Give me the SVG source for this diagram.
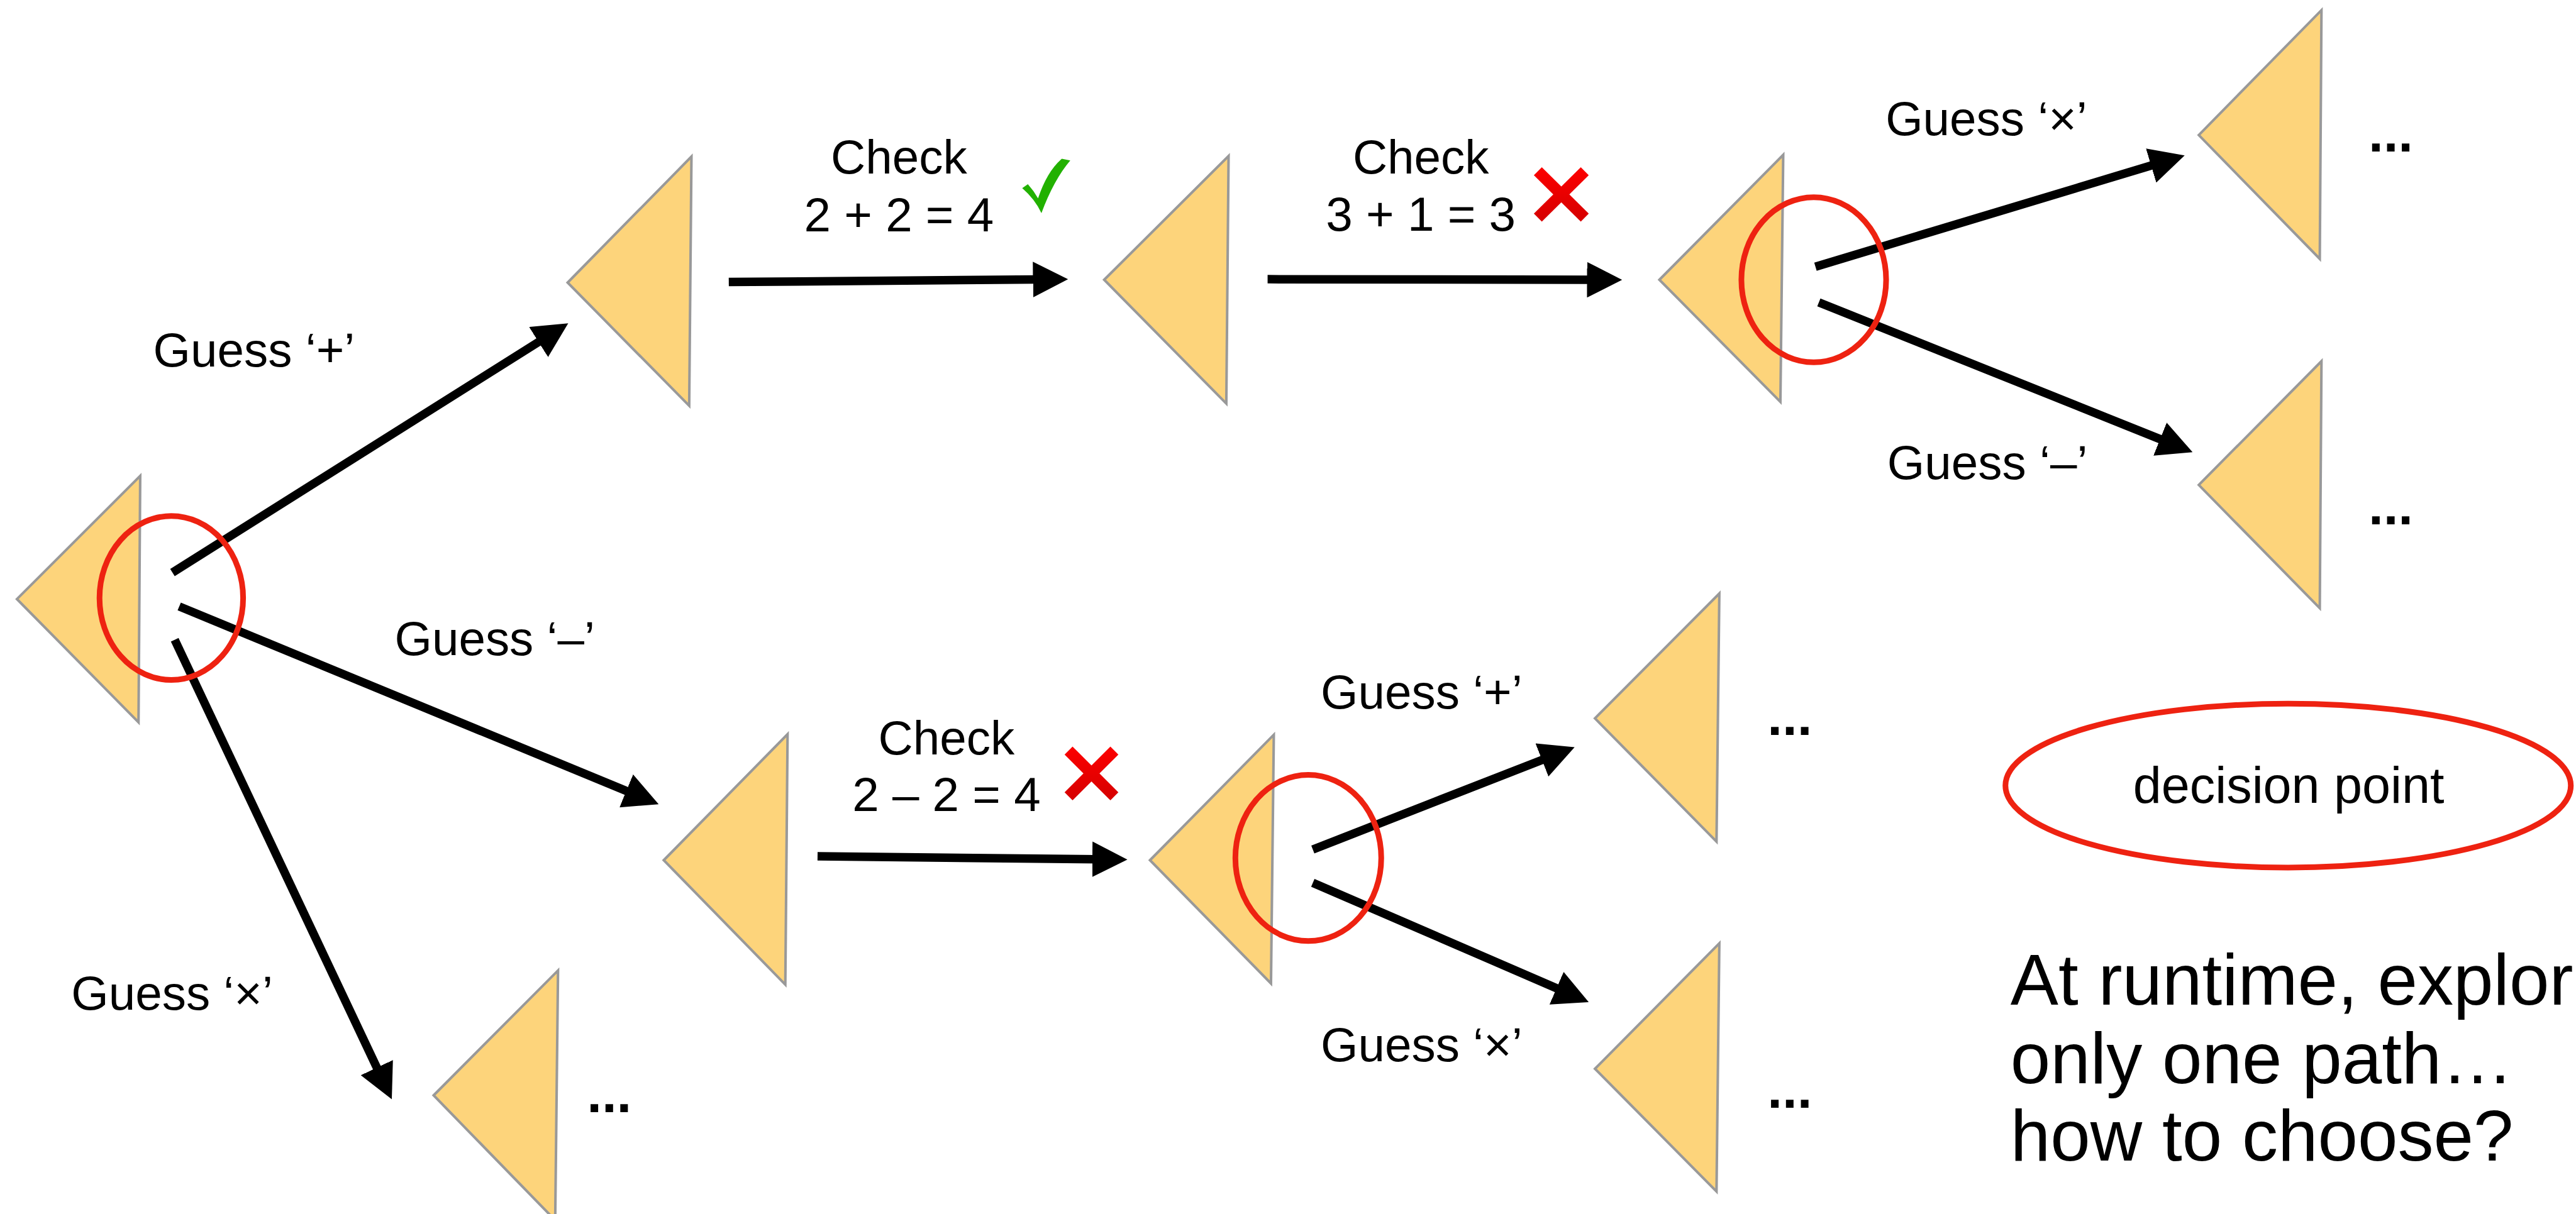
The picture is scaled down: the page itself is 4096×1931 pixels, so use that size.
<svg xmlns="http://www.w3.org/2000/svg" width="4096" height="1931" viewBox="0 0 4096 1931">
  <defs>
    <style>
      .tri { fill: #FDD47B; stroke: #999999; stroke-width: 4.5; stroke-linejoin: miter; }
      .dp { fill: none; stroke: #EE2211; stroke-width: 10; }
      .edge { stroke: #000000; stroke-width: 15; fill: none; marker-end: url(#ah); }
      .lbl { font-family: "Liberation Sans", Arial, Helvetica, sans-serif; font-size: 85px; fill: #000000; }
      .mid { text-anchor: middle; }
      .more { font-family: "Liberation Sans", Arial, Helvetica, sans-serif; font-size: 95px; font-weight: bold; fill: #000000; }
      .big { font-family: "Liberation Sans", Arial, Helvetica, sans-serif; font-size: 127px; fill: #000000; }
      .fail { stroke: url(#redgrad); stroke-width: 20; stroke-linecap: butt; fill: none; }
    </style>
    <marker id="ah" markerUnits="userSpaceOnUse" viewBox="0 0 62 63" markerWidth="62" markerHeight="63" refX="8" refY="31.5" orient="auto">
      <path d="M0,0 L62,31.5 L0,63 Z" fill="#000000"/>
    </marker>
    <linearGradient id="redgrad" x1="0" y1="0" x2="0" y2="1">
      <stop offset="0" stop-color="#FA0000"/>
      <stop offset="1" stop-color="#D80000"/>
    </linearGradient>
  </defs>

  <rect x="0" y="0" width="4096" height="1931" fill="#ffffff"/>

  <g transform="scale(0.899)">
    <!-- connectors -->
    <g id="connectors">
      <line class="edge" x1="305" y1="1013" x2="959.3" y2="600.8"/>
      <line class="edge" x1="317" y1="1073" x2="1115.1" y2="1402.4"/>
      <line class="edge" x1="309" y1="1132" x2="669.9" y2="1896.2"/>
      <line class="edge" x1="1289" y1="499" x2="1835" y2="494.5"/>
      <line class="edge" x1="2242" y1="494" x2="2815" y2="495"/>
      <line class="edge" x1="3211" y1="472" x2="3812.3" y2="290.6"/>
      <line class="edge" x1="3217" y1="535" x2="3827.9" y2="779.9"/>
      <line class="edge" x1="1446" y1="1515" x2="1940" y2="1520.4"/>
      <line class="edge" x1="2322" y1="1503" x2="2734.7" y2="1341.7"/>
      <line class="edge" x1="2322" y1="1562" x2="2760.4" y2="1751.6"/>
    </g>

    <!-- edge labels -->
    <g id="edge-labels">
      <text class="lbl" x="271" y="648">Guess ‘+’</text>
      <text class="lbl" x="698" y="1159">Guess ‘–’</text>
      <text class="lbl" x="126" y="1787">Guess ‘×’</text>
      <text class="lbl mid" x="1590" y="307">Check</text>
      <text class="lbl mid" x="1590" y="409">2 + 2 = 4</text>
      <text class="lbl mid" x="2513" y="307">Check</text>
      <text class="lbl mid" x="2513" y="408">3 + 1 = 3</text>
      <text class="lbl mid" x="1674" y="1335">Check</text>
      <text class="lbl mid" x="1674" y="1435">2 – 2 = 4</text>
      <text class="lbl" x="3335" y="239">Guess ‘×’</text>
      <text class="lbl" x="3338" y="848">Guess ‘–’</text>
      <text class="lbl" x="2336" y="1254">Guess ‘+’</text>
      <text class="lbl" x="2336" y="1878">Guess ‘×’</text>
    </g>

    <!-- check results -->
    <g id="check-ok">
      <path d="M1808,333 L1818,326 Q1828,337 1836,351 Q1852,303 1878,281 L1893,284 Q1864,318 1842,377 Q1830,352 1808,333 Z" fill="#22B100"/>
    </g>
    <g id="check-fail-1">
      <line class="fail" x1="2720" y1="303" x2="2803" y2="385"/>
      <line class="fail" x1="2803" y1="303" x2="2720" y2="385"/>
    </g>
    <g id="check-fail-2">
      <line class="fail" x1="1890" y1="1328" x2="1971" y2="1409"/>
      <line class="fail" x1="1971" y1="1328" x2="1890" y2="1409"/>
    </g>

    <!-- nodes -->
    <g id="node-root">
      <polygon class="tri" points="30,1060 248,842 245,1278"/>
      <ellipse class="dp" cx="303" cy="1058" rx="127" ry="145"/>
    </g>
    <g id="node-plus">
      <polygon class="tri" points="1004,500 1223,277 1219,718"/>
    </g>
    <g id="node-plus-checked">
      <polygon class="tri" points="1953,495 2173,276 2169,714"/>
    </g>
    <g id="node-plus-decision">
      <polygon class="tri" points="2935,495 3154,274 3149,711"/>
      <ellipse class="dp" cx="3208" cy="495" rx="128" ry="146"/>
    </g>
    <g id="node-plus-times">
      <polygon class="tri" points="3889,239 4106,18 4103,458"/>
      <text class="more" x="4189" y="268">...</text>
    </g>
    <g id="node-plus-minus">
      <polygon class="tri" points="3889,858 4106,639 4103,1076"/>
      <text class="more" x="4189" y="928">...</text>
    </g>
    <g id="node-minus">
      <polygon class="tri" points="1174,1522 1393,1299 1389,1742"/>
    </g>
    <g id="node-minus-decision">
      <polygon class="tri" points="2034,1522 2253,1300 2248,1740"/>
      <ellipse class="dp" cx="2314" cy="1518" rx="129" ry="147"/>
    </g>
    <g id="node-minus-plus">
      <polygon class="tri" points="2821,1271 3041,1050 3036,1489"/>
      <text class="more" x="3126" y="1300">...</text>
    </g>
    <g id="node-minus-times">
      <polygon class="tri" points="2821,1891 3041,1669 3036,2108"/>
      <text class="more" x="3126" y="1960">...</text>
    </g>
    <g id="node-times">
      <polygon class="tri" points="767,1938 987,1717 982,2159"/>
      <text class="more" x="1038" y="1968">...</text>
    </g>

    <!-- legend -->
    <g id="legend">
      <ellipse class="dp" cx="4047" cy="1390" rx="500" ry="145"/>
      <text class="lbl mid" x="4048" y="1420" style="font-size:90px">decision point</text>
    </g>

    <!-- note -->
    <g id="note">
      <text class="big" x="3556" y="1778">At runtime, explore</text>
      <text class="big" x="3556" y="1917">only one path…</text>
      <text class="big" x="3556" y="2053">how to choose?</text>
    </g>
  </g>
</svg>
